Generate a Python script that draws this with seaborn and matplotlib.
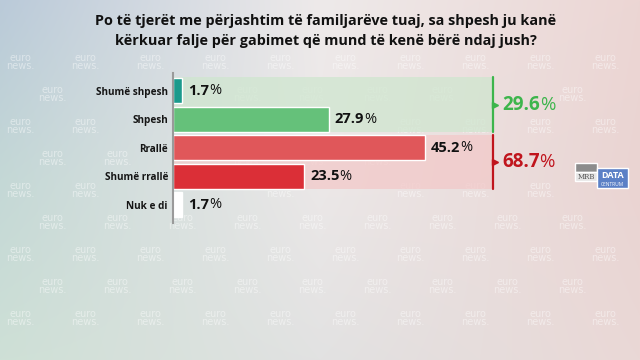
import numpy as np
import pandas as pd
import seaborn as sns
import matplotlib.pyplot as plt
from matplotlib.patches import Rectangle
from matplotlib.transforms import Bbox

# data
categories = ["Shumë shpesh", "Shpesh", "Rrallë", "Shumë rrallë", "Nuk e di"]
values = [1.7, 27.9, 45.2, 23.5, 1.7]
bar_colors = ["#1b9a8c", "#65c17a", "#e0575a", "#db2f37", "#ffffff"]
group_totals = [29.6, 68.7]
group_colors = ["#3db54c", "#c0151d"]
group_fill = ["#cfe6cf", "#f2c9c9"]
title = ("Po të tjerët me përjashtim të familjarëve tuaj, sa shpesh ju kanë\n"
         "kërkuar falje për gabimet që mund të kenë bërë ndaj jush?")

df = pd.DataFrame({"cat": categories, "val": values})

sns.set_style("white")
plt.rcParams["font.family"] = ["Open Sans", "DejaVu Sans"]

fig = plt.figure(figsize=(6.4, 3.6), dpi=100)

# background gradient
bg = fig.add_axes([0, 0, 1, 1], zorder=-10)
grid = np.array([
    [[186, 202, 217], [238, 234, 234], [236, 214, 212]],
    [[196, 216, 214], [236, 232, 232], [234, 212, 210]],
    [[206, 224, 214], [226, 226, 226], [234, 216, 214]],
]) / 255.0
ys = np.linspace(0, 2, 360)
xs = np.linspace(0, 2, 640)
yy, xx = np.meshgrid(ys, xs, indexing="ij")
y0 = np.clip(np.floor(yy).astype(int), 0, 1)
x0 = np.clip(np.floor(xx).astype(int), 0, 1)
fy = (yy - y0)[..., None]
fx = (xx - x0)[..., None]
img = (grid[y0, x0] * (1 - fy) * (1 - fx) + grid[y0 + 1, x0] * fy * (1 - fx)
       + grid[y0, x0 + 1] * (1 - fy) * fx + grid[y0 + 1, x0 + 1] * fy * fx)
bg.imshow(img, extent=[0, 640, 360, 0], aspect="auto")
bg.set_xlim(0, 640)
bg.set_ylim(360, 0)
bg.axis("off")

# title
title_txt = fig.text(0.509, 0.914, title, ha="center", va="center", fontsize=10.4,
                     fontweight="bold", color="#111111", linespacing=1.62)

# main axes
ax = fig.add_axes([173 / 640, 0.3817, 320 / 640, 0.7978 - 0.3817])
ax.patch.set_alpha(0)
xmax = 320 / 5.58

sns.barplot(data=df, x="val", y="cat", hue="cat", palette=bar_colors,
            legend=False, orient="h", width=0.875, ax=ax, saturation=1, zorder=3)

ax.set_xlim(0, xmax)
ax.set_ylim(4.62, -0.62)

keep_clear = [title_txt]

# group boxes and totals
spans = [(-0.47, 1.45), (1.556, 3.44)]
for (top, bot), fill, col, tot in zip(spans, group_fill, group_colors, group_totals):
    ax.add_patch(Rectangle((0, top), xmax, bot - top, facecolor=fill, alpha=0.75,
                           edgecolor="none", zorder=1))
    ax.plot([xmax, xmax], [top, bot], color=col, lw=1.6, clip_on=False, zorder=4)
    mid = (top + bot) / 2
    ax.plot([xmax + 0.35], [mid], marker=">", color=col, markersize=5,
            clip_on=False, zorder=4)
    t = ax.annotate(f"{tot}", xy=(xmax, mid), xytext=(9, 0),
                    textcoords="offset pixels", ha="left", va="center",
                    fontsize=13.5, fontweight="bold", color=col, annotation_clip=False)
    p = ax.annotate("%", xy=(1, 0.5), xycoords=t, ha="left", va="center",
                    fontsize=13.5, color=col)
    keep_clear += [t, p]

# value labels
for i, v in enumerate(values):
    t = ax.annotate(f"{v}", xy=(v, i), xytext=(6, 0), textcoords="offset pixels",
                    ha="left", va="center", fontsize=10.5, fontweight="bold",
                    color="#111111")
    p = ax.annotate("%", xy=(1, 0.5), xycoords=t, ha="left", va="center",
                    fontsize=10.5, color="#111111")
    keep_clear += [t, p]

ax.set_xlabel("")
ax.set_ylabel("")
ax.set_xticks([])
ax.tick_params(axis="y", length=0, pad=3.6, labelsize=7.2)
for lab in ax.get_yticklabels():
    lab.set_fontweight("bold")
    lab.set_color("#151515")
for s in ["top", "right", "bottom"]:
    ax.spines[s].set_visible(False)
ax.spines["left"].set_color("#9a9a9a")
ax.spines["left"].set_linewidth(1.5)
ax.spines["left"].set_zorder(5)

# logo
bg.add_patch(Rectangle((575, 163), 22, 9, facecolor="#8c8c8c", zorder=2))
bg.add_patch(Rectangle((575, 172), 22, 9, facecolor="#e6e6e6", zorder=2))
bg.text(586, 177, "MRB", fontsize=5, color="#555555", ha="center", va="center",
        family="DejaVu Serif", zorder=3)
bg.add_patch(Rectangle((597, 168), 31, 20, facecolor="#5b80c6", zorder=2))
bg.text(612.5, 176, "DATA", fontsize=6.5, color="white", fontweight="bold",
        ha="center", va="center", zorder=3)
bg.text(612.5, 184, "CENTRUM", fontsize=3.5, color="white", ha="center",
        va="center", zorder=3)

# euronews watermarks, skipped where they would cover the chart texts
fig.canvas.draw()
renderer = fig.canvas.get_renderer()
clear_boxes = [t.get_window_extent(renderer).expanded(1.05, 1.1) for t in keep_clear]
clear_boxes += [l.get_window_extent(renderer).expanded(1.05, 1.1)
                for l in ax.get_yticklabels()]
clear_boxes.append(Bbox.from_extents(570, 360 - 192, 632, 360 - 160))
for r, wy in enumerate(range(62, 350, 32)):
    shift = 0 if r % 2 == 0 else 32
    for wx in range(20 + shift, 625, 65):
        w = bg.text(wx, wy, "euro\nnews.", color="white", alpha=0.45, fontsize=7,
                    ha="center", va="center", linespacing=0.8, family="DejaVu Sans")
        wb = w.get_window_extent(renderer)
        if any(wb.overlaps(b) for b in clear_boxes):
            w.remove()

fig.savefig("out.png", dpi=100)
